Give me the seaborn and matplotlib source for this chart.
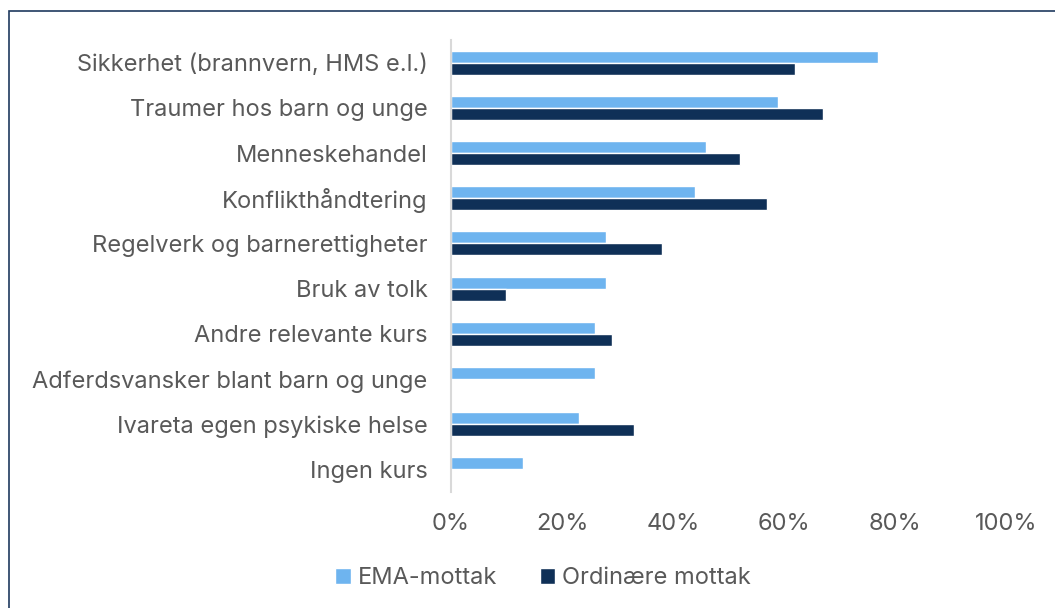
import pandas as pd
import matplotlib
matplotlib.use("Agg")
import matplotlib.pyplot as plt
import seaborn as sns
from matplotlib.patches import Rectangle
from matplotlib.ticker import PercentFormatter

# Data
categories = [
    "Sikkerhet (brannvern, HMS e.l.)",
    "Traumer hos barn og unge",
    "Menneskehandel",
    "Konflikthåndtering",
    "Regelverk og barnerettigheter",
    "Bruk av tolk",
    "Andre relevante kurs",
    "Adferdsvansker blant barn og unge",
    "Ivareta egen psykiske helse",
    "Ingen kurs",
]
ema_values = [77, 59, 46, 44, 28, 28, 26, 26, 23, 13]
ordinary_values = [62, 67, 52, 57, 38, 10, 29, 0, 33, 0]
series_names = ["EMA-mottak", "Ordinære mottak"]
colors = ["#6EB4EF", "#0F3057"]

df = pd.concat([
    pd.DataFrame({"Kurs": categories, "Andel": ema_values, "Type": series_names[0]}),
    pd.DataFrame({"Kurs": categories, "Andel": ordinary_values, "Type": series_names[1]}),
])

sns.set_theme(style="white")
plt.rcParams["font.family"] = ["Inter", "DejaVu Sans"]
text_color = "#595959"
fs = 17

fig = plt.figure(figsize=(10.55, 6.08), dpi=100)
ax = fig.add_axes([451 / 1055, 1 - 492 / 608, 555 / 1055, 452 / 608])

sns.barplot(data=df, y="Kurs", x="Andel", hue="Type", order=categories,
            hue_order=series_names, palette=colors, orient="h",
            width=0.53, saturation=1, ax=ax)

ax.set_xlim(0, 100)
ax.set_xticks([0, 20, 40, 60, 80, 100])
ax.xaxis.set_major_formatter(PercentFormatter(decimals=0))
ax.set_xlabel("")
ax.set_ylabel("")
ax.tick_params(axis="both", length=0, labelsize=fs, colors=text_color)
ax.tick_params(axis="x", pad=15)
ax.tick_params(axis="y", pad=17)

for side in ["top", "right", "bottom"]:
    ax.spines[side].set_visible(False)
ax.spines["left"].set_color("#D9D9D9")
ax.spines["left"].set_linewidth(1.5)

handles, labels = ax.get_legend_handles_labels()
ax.legend(handles, labels, loc="center", frameon=False, ncol=2,
          fontsize=fs, handlelength=0.65, handleheight=0.65, handletextpad=0.3,
          columnspacing=1.8, labelcolor=text_color)
ax.get_legend().set_bbox_to_anchor((543 / 1055, 1 - 578 / 608), transform=fig.transFigure)

# thin frame around the chart area
fig.patches.append(Rectangle((9 / 1055, -0.05), 1.05, 1 - 11 / 608 + 0.05,
                             transform=fig.transFigure, fill=False,
                             edgecolor="#1F3A5F", linewidth=1.2))

fig.savefig("out.png", dpi=100)
